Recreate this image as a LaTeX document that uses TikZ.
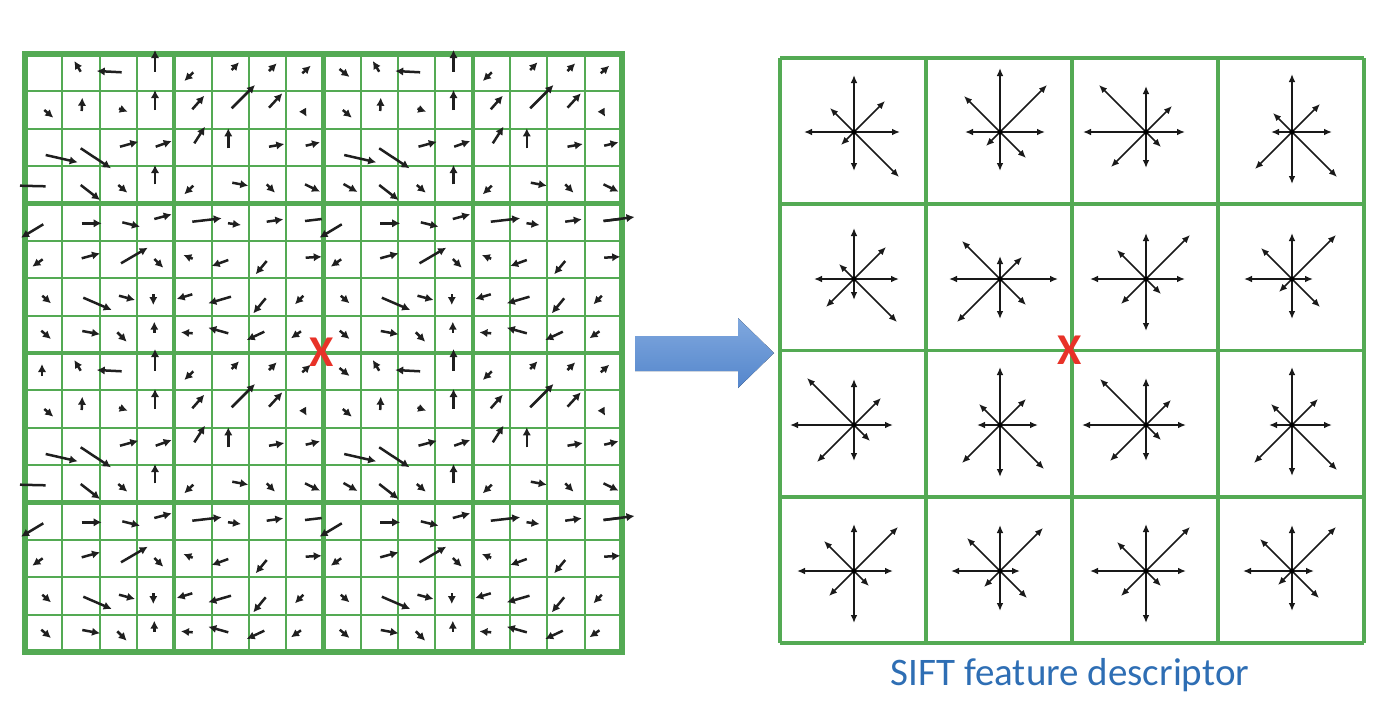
\documentclass[tikz,border=0pt]{standalone}
\usepackage{fontspec}
\setsansfont{Carlito}
\usetikzlibrary{arrows.meta}
\definecolor{gridgreen}{RGB}{84,170,84}
\definecolor{xred}{RGB}{232,50,40}
\definecolor{captionblue}{RGB}{46,110,180}
\definecolor{arrowtop}{RGB}{128,168,222}
\definecolor{arrowbot}{RGB}{84,134,204}
\newcommand\va[2]{\draw[varrow] (#1) -- (#2);}
\newcommand\vl[2]{\draw[vline] (#1) -- (#2);}
\newcommand\arrowpattern{%
 % row 1
 \va{80.7,71.7}{74.3,61}\va{121.7,72.3}{96.7,71}\va{155,71.7}{155,50}
 \va{193.3,72.3}{184.3,81}\va{231.7,70}{239,62.3}\va{269,71}{276.7,63.3}\va{302.3,73.3}{310.7,65.7}
 % row 2
 \va{44.3,110}{53.3,117.7}\va{81.7,111}{82.3,97.7}\va{119,108.5}{127.7,111.7}\va{155,110}{155,90}
 \va{192.3,109.3}{204.3,95.7}\va{231.7,108.3}{255,85}\va{269,107.7}{282.3,93.3}\va{302.8,110}{306.7,116.7}
 % row 3
 \va{45.7,155}{77.7,162.3}\va{80.7,148.3}{111,168.3}\va{120,146.7}{138.3,141.7}\va{155.7,146.7}{171.7,141}
 \va{194.3,143.3}{205,126.7}\va{228.3,148.3}{228.3,128.3}\va{269,146.7}{284.3,144}\va{305.7,145.7}{320,142.3}
 % row 4
 \va{80.7,185}{100,200}\va{118.3,185}{127.3,192.7}\va{155,184.3}{155,165}
 \va{193.3,185.7}{184.3,194.3}\va{232.3,182.7}{248.3,185.7}\va{266.7,184.3}{275,192.7}\va{305,184.3}{320,191.7}
 % row 5
 \va{43.3,224.3}{21,237.7}\va{81.7,223.3}{101.7,223.3}\va{122.3,222.3}{140,226.7}\va{154.3,219}{171.7,214.3}
 \va{192.3,221.7}{221.7,218.3}\va{228,223.2}{241,225}\va{266.7,221.7}{283.3,219.3}\vl{305,221}{321.7,219}
 % row 6
 \va{42.7,259.3}{32.3,266.7}\va{81.7,258.3}{100,253.3}\va{121,263.3}{147.7,247.7}\va{154.3,259}{163.3,267.7}
 \va{192.7,258.7}{183.3,255}\va{228.3,260}{211.7,266}\va{266.7,261}{255.7,274.3}\va{305.7,257.7}{321.7,256.7}
 % row 7
 \va{42.3,295.7}{51,303.3}\va{83.3,297.7}{111.7,310}\va{119,295.7}{135,300}\va{153.3,294}{153.3,305}
 \va{192.3,294.3}{176.7,299}\va{231,296.7}{208.3,303.3}\va{265.7,298.3}{253.3,313.3}\va{303.3,295.7}{295,304.3}
 % row 8
 \va{41.3,330.7}{51,339}\va{82.3,331}{100,334.3}\va{117.3,332.3}{126.7,341.7}\va{154.3,332.7}{154.3,321.7}
 \va{192.7,333.3}{181,332.3}\va{228.3,333.3}{208.3,327.7}\va{264.3,331.7}{246.7,340}\va{301,331.3}{291,338.3}
}
% star: #1 centre, then E NE N NW W SW S SE
\newcommand\siftstar[9]{%
 \begin{scope}[shift={#1}]
  \draw[sarrow] (0,0) -- (#2,0);
  \draw[sarrow] (0,0) -- (#3,-#3);
  \draw[sarrow] (0,0) -- (0,-#4);
  \draw[sarrow] (0,0) -- (-#5,-#5);
  \draw[sarrow] (0,0) -- (-#6,0);
  \draw[sarrow] (0,0) -- (-#7,#7);
  \draw[sarrow] (0,0) -- (0,#8);
  \draw[sarrow] (0,0) -- (#9,#9);
  \fill (0,0) circle (2.4);
 \end{scope}}
\begin{document}
\begin{tikzpicture}[x=0.5pt,y=-0.5pt,
  thingrid/.style={gridgreen,line width=1pt},
  thickgrid/.style={gridgreen,line width=2.2pt},
  outergrid/.style={gridgreen,line width=2.6pt},
  rightgrid/.style={gridgreen,line width=1.9pt},
  varrow/.style={black!88,line width=1.25pt,-{Latex[length=4pt,width=4.2pt]}},
  vline/.style={black!88,line width=1.25pt},
  sarrow/.style={black!90,line width=0.85pt,-{Latex[length=4pt,width=3.4pt]}}]
\useasboundingbox (0,0) rectangle (1382,708);
% ---------- left grid ----------
\foreach \i in {1,...,15}{
  \draw[thingrid] ({25+\i*37.3125},54) -- ({25+\i*37.3125},652);
  \draw[thingrid] (25,{54+\i*37.375}) -- (622,{54+\i*37.375});
}
\foreach \i in {4,8,12}{
  \draw[thickgrid] ({25+\i*37.3125},54) -- ({25+\i*37.3125},652);
  \draw[thickgrid] (25,{54+\i*37.375}) -- (622,{54+\i*37.375});
}
\draw[outergrid] (25,54) rectangle (622,652);
% arrows, four quadrants
\begin{scope}
  \arrowpattern
  \vl{20,185.7}{45.7,186.3}
\end{scope}
\begin{scope}[shift={(298.5,0)}]
  \arrowpattern
  \va{41,69}{51,77}\va{45,184}{59,192}
  \va{305,221}{336,217}
\end{scope}
\begin{scope}[shift={(0,299)}]
  \arrowpattern
  \va{42,77}{42,65}
  \vl{20,185.7}{45.7,186.3}
\end{scope}
\begin{scope}[shift={(298.5,299)}]
  \arrowpattern
  \va{41,69}{51,77}\va{45,184}{59,192}
  \va{305,221}{336,217}
\end{scope}
% ---------- block arrow ----------
\fill[top color=arrowtop,bottom color=arrowbot]
  (635,336) -- (738,336) -- (738,318) -- (774,353) -- (738,388) -- (738,371) -- (635,371) -- cycle;
% ---------- right grid ----------
\foreach \i in {0,...,4}{
  \draw[rightgrid] ({780+\i*146},58) -- ({780+\i*146},643);
  \draw[rightgrid] (780,{58+\i*146.25}) -- (1364,{58+\i*146.25});
}
\siftstar{(854,132)}{46}{31}{57}{24}{50}{13}{39}{45}
\siftstar{(1000,132)}{45}{47}{64}{36}{35}{14}{39}{26}
\siftstar{(1146,132)}{39}{26}{46}{47}{63}{35}{36}{15}
\siftstar{(1292,132)}{40}{28}{58}{19}{21}{37}{52}{45}
\siftstar{(854,279)}{45}{32}{51}{15}{40}{28}{21}{43}
\siftstar{(1000,279)}{58}{22}{23}{38}{51}{43}{40}{26}
\siftstar{(1146,279)}{39}{44}{46}{29}{56}{25}{52}{15}
\siftstar{(1292,279)}{21}{44}{46}{31}{48}{13}{40}{28}
\siftstar{(854,425)}{39}{27}{46}{47}{64}{37}{36}{16}
\siftstar{(1000,425)}{38}{26}{58}{21}{23}{38}{52}{44}
\siftstar{(1146,425)}{40}{25}{47}{46}{64}{36}{36}{15}
\siftstar{(1292,425)}{40}{26}{58}{21}{23}{38}{51}{45}
\siftstar{(854,571)}{39}{44}{47}{30}{57}{25}{52}{15}
\siftstar{(1000,571)}{20}{43}{46}{33}{49}{16}{40}{27}
\siftstar{(1146,571)}{40}{44}{47}{29}{56}{25}{52}{15}
\siftstar{(1292,571)}{22}{44}{46}{32}{49}{14}{40}{27}
% ---------- red X marks ----------
\node[font=\sffamily\bfseries\fontsize{22}{22}\selectfont,text=xred,inner sep=0pt] (xleft) at (322,352) {X};
\node[font=\sffamily\bfseries\fontsize{22}{22}\selectfont,text=xred,inner sep=0pt] (xright) at (1070,350) {X};
% ---------- caption ----------
\node[font=\sffamily\fontsize{19.5}{23}\selectfont,text=captionblue,inner sep=0pt] (caption) at (1070,675) {SIFT feature descriptor};
\end{tikzpicture}
\end{document}
